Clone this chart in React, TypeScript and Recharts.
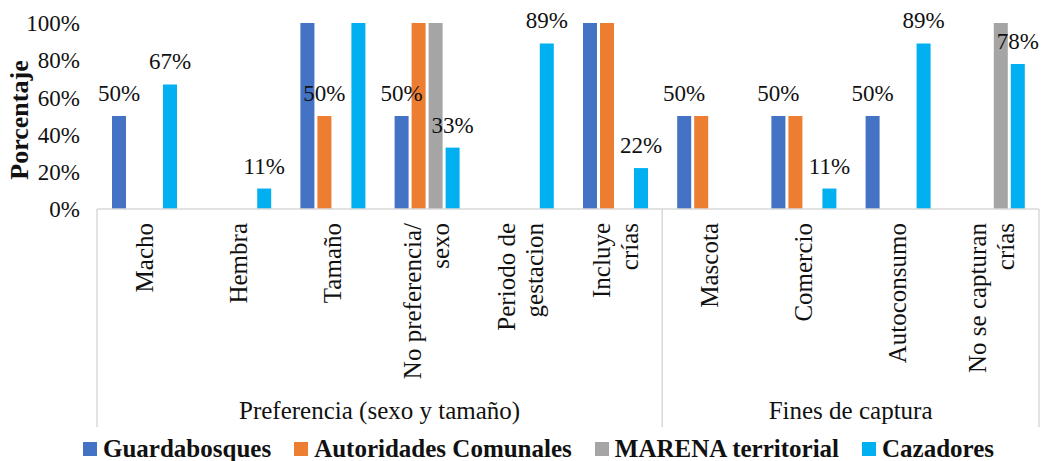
import { BarChart, Bar, XAxis, YAxis, LabelList, Legend } from 'recharts';

const FONT = "'Liberation Serif', 'Times New Roman', serif";

const categories = [
  'Macho',
  'Hembra',
  'Tamaño',
  'No preferencia/\nsexo',
  'Periodo de\ngestacion',
  'Incluye\ncrías',
  'Mascota',
  'Comercio',
  'Autoconsumo',
  'No se capturan\ncrías',
];
const groupNames = ['Preferencia (sexo y tamaño)', 'Fines de captura'];
const categoryGroup = [0, 0, 0, 0, 0, 0, 1, 1, 1, 1];

const guardabosques = [50, 0, 100, 50, 0, 100, 50, 50, 50, 0];
const autoridades = [0, 0, 50, 100, 0, 100, 50, 50, 0, 0];
const marena = [0, 0, 0, 100, 0, 0, 0, 0, 0, 100];
const cazadores = [67, 11, 100, 33, 89, 22, 0, 11, 89, 78];

// which bars carry a data label in the original
const guardaLabels = [1, 0, 0, 1, 0, 0, 1, 1, 1, 0];
const autoridadesLabels = [0, 0, 1, 0, 0, 0, 0, 0, 0, 0];
const marenaLabels = [0, 0, 0, 0, 0, 0, 0, 0, 0, 0];
const cazadoresLabels = [1, 1, 0, 1, 1, 1, 0, 1, 1, 1];

const yTicks = [0, 20, 40, 60, 80, 100];

const series = [
  { key: 'g', name: 'Guardabosques', color: '#4472C4' },
  { key: 'a', name: 'Autoridades Comunales', color: '#ED7D31' },
  { key: 'm', name: 'MARENA territorial', color: '#A5A5A5' },
  { key: 'c', name: 'Cazadores', color: '#00B0F0' },
];

const data = categories.map((name, i) => ({
  name,
  g: guardabosques[i],
  a: autoridades[i],
  m: marena[i],
  c: cazadores[i],
  gL: guardaLabels[i] ? guardabosques[i] : null,
  aL: autoridadesLabels[i] ? autoridades[i] : null,
  mL: marenaLabels[i] ? marena[i] : null,
  cL: cazadoresLabels[i] ? cazadores[i] : null,
}));

const AXIS_COLOR = '#d9d9d9';
const BOX_DEPTH = 218;

function BarLabel(props: any) {
  const vb = props.viewBox || props;
  if (props.value === null || props.value === undefined) return null;
  return (
    <text
      x={vb.x + vb.width / 2}
      y={vb.y - 15}
      textAnchor="middle"
      fontFamily={FONT}
      fontSize={23}
      fill="#111"
    >
      {props.value}%
    </text>
  );
}

function CategoryTick(props: any) {
  const { x, y, payload } = props;
  const i: number = payload.index ?? props.index;
  const half: number = payload.offset || 47.1;
  const lines: string[] = String(payload.value).split('\n');
  const lineH = 28;
  const g = categoryGroup[i];
  const first = i === 0 || categoryGroup[i - 1] !== g;
  const last = i === categories.length - 1;
  const groupSize = categoryGroup.filter((v) => v === g).length;

  return (
    <g>
      {lines.map((ln, k) => {
        const lx = x + (k - (lines.length - 1) / 2) * lineH;
        return (
          <text
            key={k}
            transform={`translate(${lx},${y + 14}) rotate(-90)`}
            textAnchor="end"
            dominantBaseline="central"
            fontFamily={FONT}
            fontSize={25}
            fill="#111"
          >
            {ln}
          </text>
        );
      })}
      {first && (
        <>
          <line x1={x - half} x2={x - half} y1={y} y2={y + BOX_DEPTH} stroke={AXIS_COLOR} strokeWidth={1.5} />
          <text
            x={x - half + groupSize * half}
            y={y + 210}
            textAnchor="middle"
            fontFamily={FONT}
            fontSize={25}
            fill="#111"
          >
            {groupNames[g]}
          </text>
        </>
      )}
      {last && (
        <line x1={x + half} x2={x + half} y1={y} y2={y + BOX_DEPTH} stroke={AXIS_COLOR} strokeWidth={1.5} />
      )}
    </g>
  );
}

function LegendContent() {
  return (
    <div
      style={{
        height: 28,
        boxSizing: 'border-box',
        paddingTop: 4,
        display: 'flex',
        alignItems: 'center',
        paddingLeft: 83,
        fontFamily: FONT,
        fontWeight: 'bold',
        fontSize: 25,
        lineHeight: '24px',
        color: '#111',
        whiteSpace: 'nowrap',
      }}
    >
      {series.map((s) => (
        <div key={s.key} style={{ display: 'flex', alignItems: 'center', marginRight: 23 }}>
          <span style={{ display: 'inline-block', width: 14, height: 14, background: s.color, marginRight: 6 }} />
          <span>{s.name}</span>
        </div>
      ))}
    </div>
  );
}

export default function App() {
  return (
    <div style={{ position: 'absolute', left: 0, top: 0, width: 1047, height: 461, background: '#fff' }}>
      <BarChart
        width={1047}
        height={461}
        data={data}
        margin={{ top: 23, right: 8, bottom: 0, left: 0 }}
        barSize={14}
        barGap={3}
      >
        <XAxis
          dataKey="name"
          interval={0}
          height={224}
          tickSize={0}
          tickMargin={0}
          tickLine={false}
          axisLine={{ stroke: AXIS_COLOR, strokeWidth: 1.5 }}
          tick={<CategoryTick />}
        />
        <YAxis
          width={97}
          domain={[0, 100]}
          ticks={yTicks}
          tickFormatter={(v) => `${v}%`}
          axisLine={false}
          tickLine={false}
          tickSize={0}
          tickMargin={17}
          tick={{ fill: '#111', fontSize: 23, fontFamily: FONT }}
          label={(p: any) => {
            const vb = p.viewBox || { x: 0, y: 23, height: 186 };
            const cy = vb.y + vb.height / 2 + 4;
            return (
              <text
                transform={`translate(${vb.x + 19},${cy}) rotate(-90)`}
                textAnchor="middle"
                dominantBaseline="central"
                fontFamily={FONT}
                fontWeight="bold"
                fontSize={26}
                fill="#111"
              >
                Porcentaje
              </text>
            );
          }}
        />
        <Legend verticalAlign="bottom" content={<LegendContent />} />
        {series.map((s) => (
          <Bar key={s.key} dataKey={s.key} name={s.name} fill={s.color} isAnimationActive={false}>
            <LabelList dataKey={`${s.key}L`} content={<BarLabel />} />
          </Bar>
        ))}
      </BarChart>
    </div>
  );
}
